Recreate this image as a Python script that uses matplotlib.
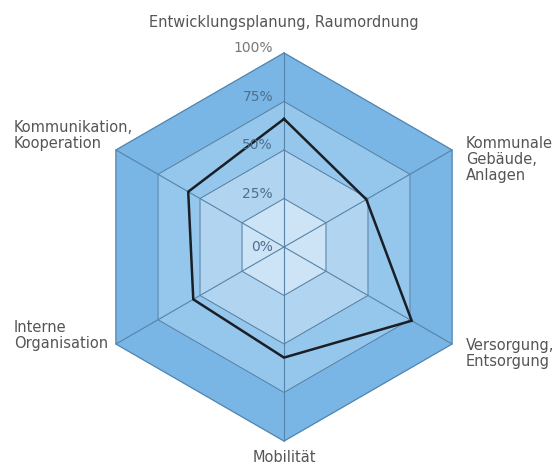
import matplotlib
matplotlib.use('agg')
import matplotlib.pyplot as plt
import numpy as np

# axes, clockwise starting at the top
categories = ["Entwicklungsplanung, Raumordnung", "Kommunale\nGebäude,\nAnlagen",
              "Versorgung,\nEntsorgung", "Mobilität", "Interne\nOrganisation",
              "Kommunikation,\nKooperation"]
values = [66, 49, 76, 57, 54, 57]
ring_levels = [25, 50, 75, 100]
ring_labels = ["0%", "25%", "50%", "75%", "100%"]
ring_colors = ["#cde4f6", "#b1d5f1", "#95c6ec", "#79b6e6"]

angles = np.deg2rad([90, 30, -30, -90, -150, 150])


def hexagon(r):
    xs = r * np.cos(angles)
    ys = r * np.sin(angles)
    return np.append(xs, xs[0]), np.append(ys, ys[0])


fig = plt.figure(figsize=(5.55, 4.67), dpi=100)
ax = fig.add_axes([0, 0, 1, 1])
R = 194.0  # pixel radius of the 100% ring
ax.set_xlim(-284 / R, (555 - 284) / R)
ax.set_ylim(-220 / R, 247 / R)
ax.set_aspect('equal')
ax.axis('off')

# filled rings, outer first
for lvl, col in zip(ring_levels[::-1], ring_colors[::-1]):
    xs, ys = hexagon(lvl / 100)
    ax.fill(xs, ys, color=col, zorder=1)
    ax.plot(xs, ys, color="#5683a8", lw=0.8, zorder=2)

# spokes
for a in angles:
    ax.plot([0, np.cos(a)], [0, np.sin(a)], color="#5683a8", lw=0.8, zorder=2)

# data polygon
v = np.array(values) / 100
xs = np.append(v * np.cos(angles), v[0] * np.cos(angles[0]))
ys = np.append(v * np.sin(angles), v[0] * np.sin(angles[0]))
ax.plot(xs, ys, color="#1a1f26", lw=1.8, zorder=3, solid_joinstyle='miter')

# ring labels
for i, lab in enumerate(ring_labels):
    r = i * 0.25
    y = r + (0.025 if i > 0 else 0)
    col = "#777777" if i == 4 else "#4f6f8f"
    ax.text(-11 / R, y, lab, ha='right', va='center', fontsize=10,
            color=col, zorder=4)

# category labels
lab_col = "#555555"
fs = 10.5
ax.text(0, (247 - 23) / R, categories[0], ha='center', va='center',
        fontsize=fs, color=lab_col)
ax.text((466 - 284) / R, (247 - 136) / R, categories[1], ha='left', va='top',
        fontsize=fs, color=lab_col, linespacing=1.1)
ax.text((466 - 284) / R, (247 - 338) / R, categories[2], ha='left', va='top',
        fontsize=fs, color=lab_col, linespacing=1.1)
ax.text(0, (247 - 458) / R, categories[3], ha='center', va='center',
        fontsize=fs, color=lab_col)
ax.text((14 - 284) / R, (247 - 320) / R, categories[4], ha='left', va='top',
        fontsize=fs, color=lab_col, linespacing=1.1)
ax.text((14 - 284) / R, (247 - 120) / R, categories[5], ha='left', va='top',
        fontsize=fs, color=lab_col, linespacing=1.1)

plt.savefig('out.png', dpi=100)
